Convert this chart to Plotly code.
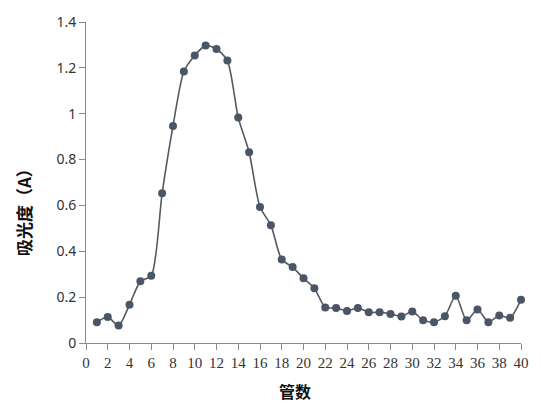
import plotly.graph_objects as go

tubes = list(range(1, 41))
absorbance = [0.091, 0.113, 0.076, 0.167, 0.269, 0.293, 0.653, 0.946, 1.184, 1.254,
              1.297, 1.282, 1.232, 0.983, 0.832, 0.593, 0.514, 0.364, 0.331, 0.282,
              0.239, 0.155, 0.153, 0.140, 0.153, 0.134, 0.134, 0.127, 0.116, 0.137,
              0.099, 0.091, 0.117, 0.206, 0.099, 0.146, 0.091, 0.120, 0.110, 0.189]
x_ticks = list(range(0, 41, 2))
y_ticks = [0, 0.2, 0.4, 0.6, 0.8, 1.0, 1.2, 1.4]
y_tick_text = ["0", "0.2", "0.4", "0.6", "0.8", "1", "1.2", "1.4"]

fig = go.Figure()
fig.add_trace(go.Scatter(
    x=tubes, y=absorbance, mode="lines+markers", cliponaxis=False,
    line=dict(color="#555a60", width=1.6, shape="spline", smoothing=0.7),
    marker=dict(color="#4a5566", size=8),
    showlegend=False, hoverinfo="skip",
))

fig.update_layout(
    width=541, height=406,
    margin=dict(l=86, r=20, t=17, b=63),
    paper_bgcolor="white", plot_bgcolor="white",
    xaxis=dict(range=[0, 40], tickvals=x_ticks, ticktext=[str(v) for v in x_ticks],
               showgrid=False, zeroline=False, showline=True, linecolor="#8a8a8a",
               linewidth=1, ticks="outside", ticklen=6, tickcolor="#8a8a8a",
               tickfont=dict(family="Liberation Serif", size=15, color="#333333")),
    yaxis=dict(range=[0, 1.4], tickvals=y_ticks, ticktext=y_tick_text,
               showgrid=False, zeroline=False, showline=True, linecolor="#8a8a8a",
               linewidth=1, ticks="outside", ticklen=6, tickcolor="#8a8a8a",
               tickfont=dict(family="Noto Sans", size=14, color="#333333")),
    annotations=[
        dict(text="<b>管数</b>", xref="paper", yref="paper", x=0.48, y=-0.15,
             xanchor="center", yanchor="middle", showarrow=False,
             font=dict(family="Noto Sans CJK SC", size=16, color="#111111")),
        dict(text="<b>吸光度（A）</b>", xref="paper", yref="paper", x=-0.145, y=0.42,
             xanchor="center", yanchor="middle", showarrow=False, textangle=-90,
             font=dict(family="Noto Sans CJK SC", size=17, color="#111111")),
    ],
)

fig.write_html("out.html")
